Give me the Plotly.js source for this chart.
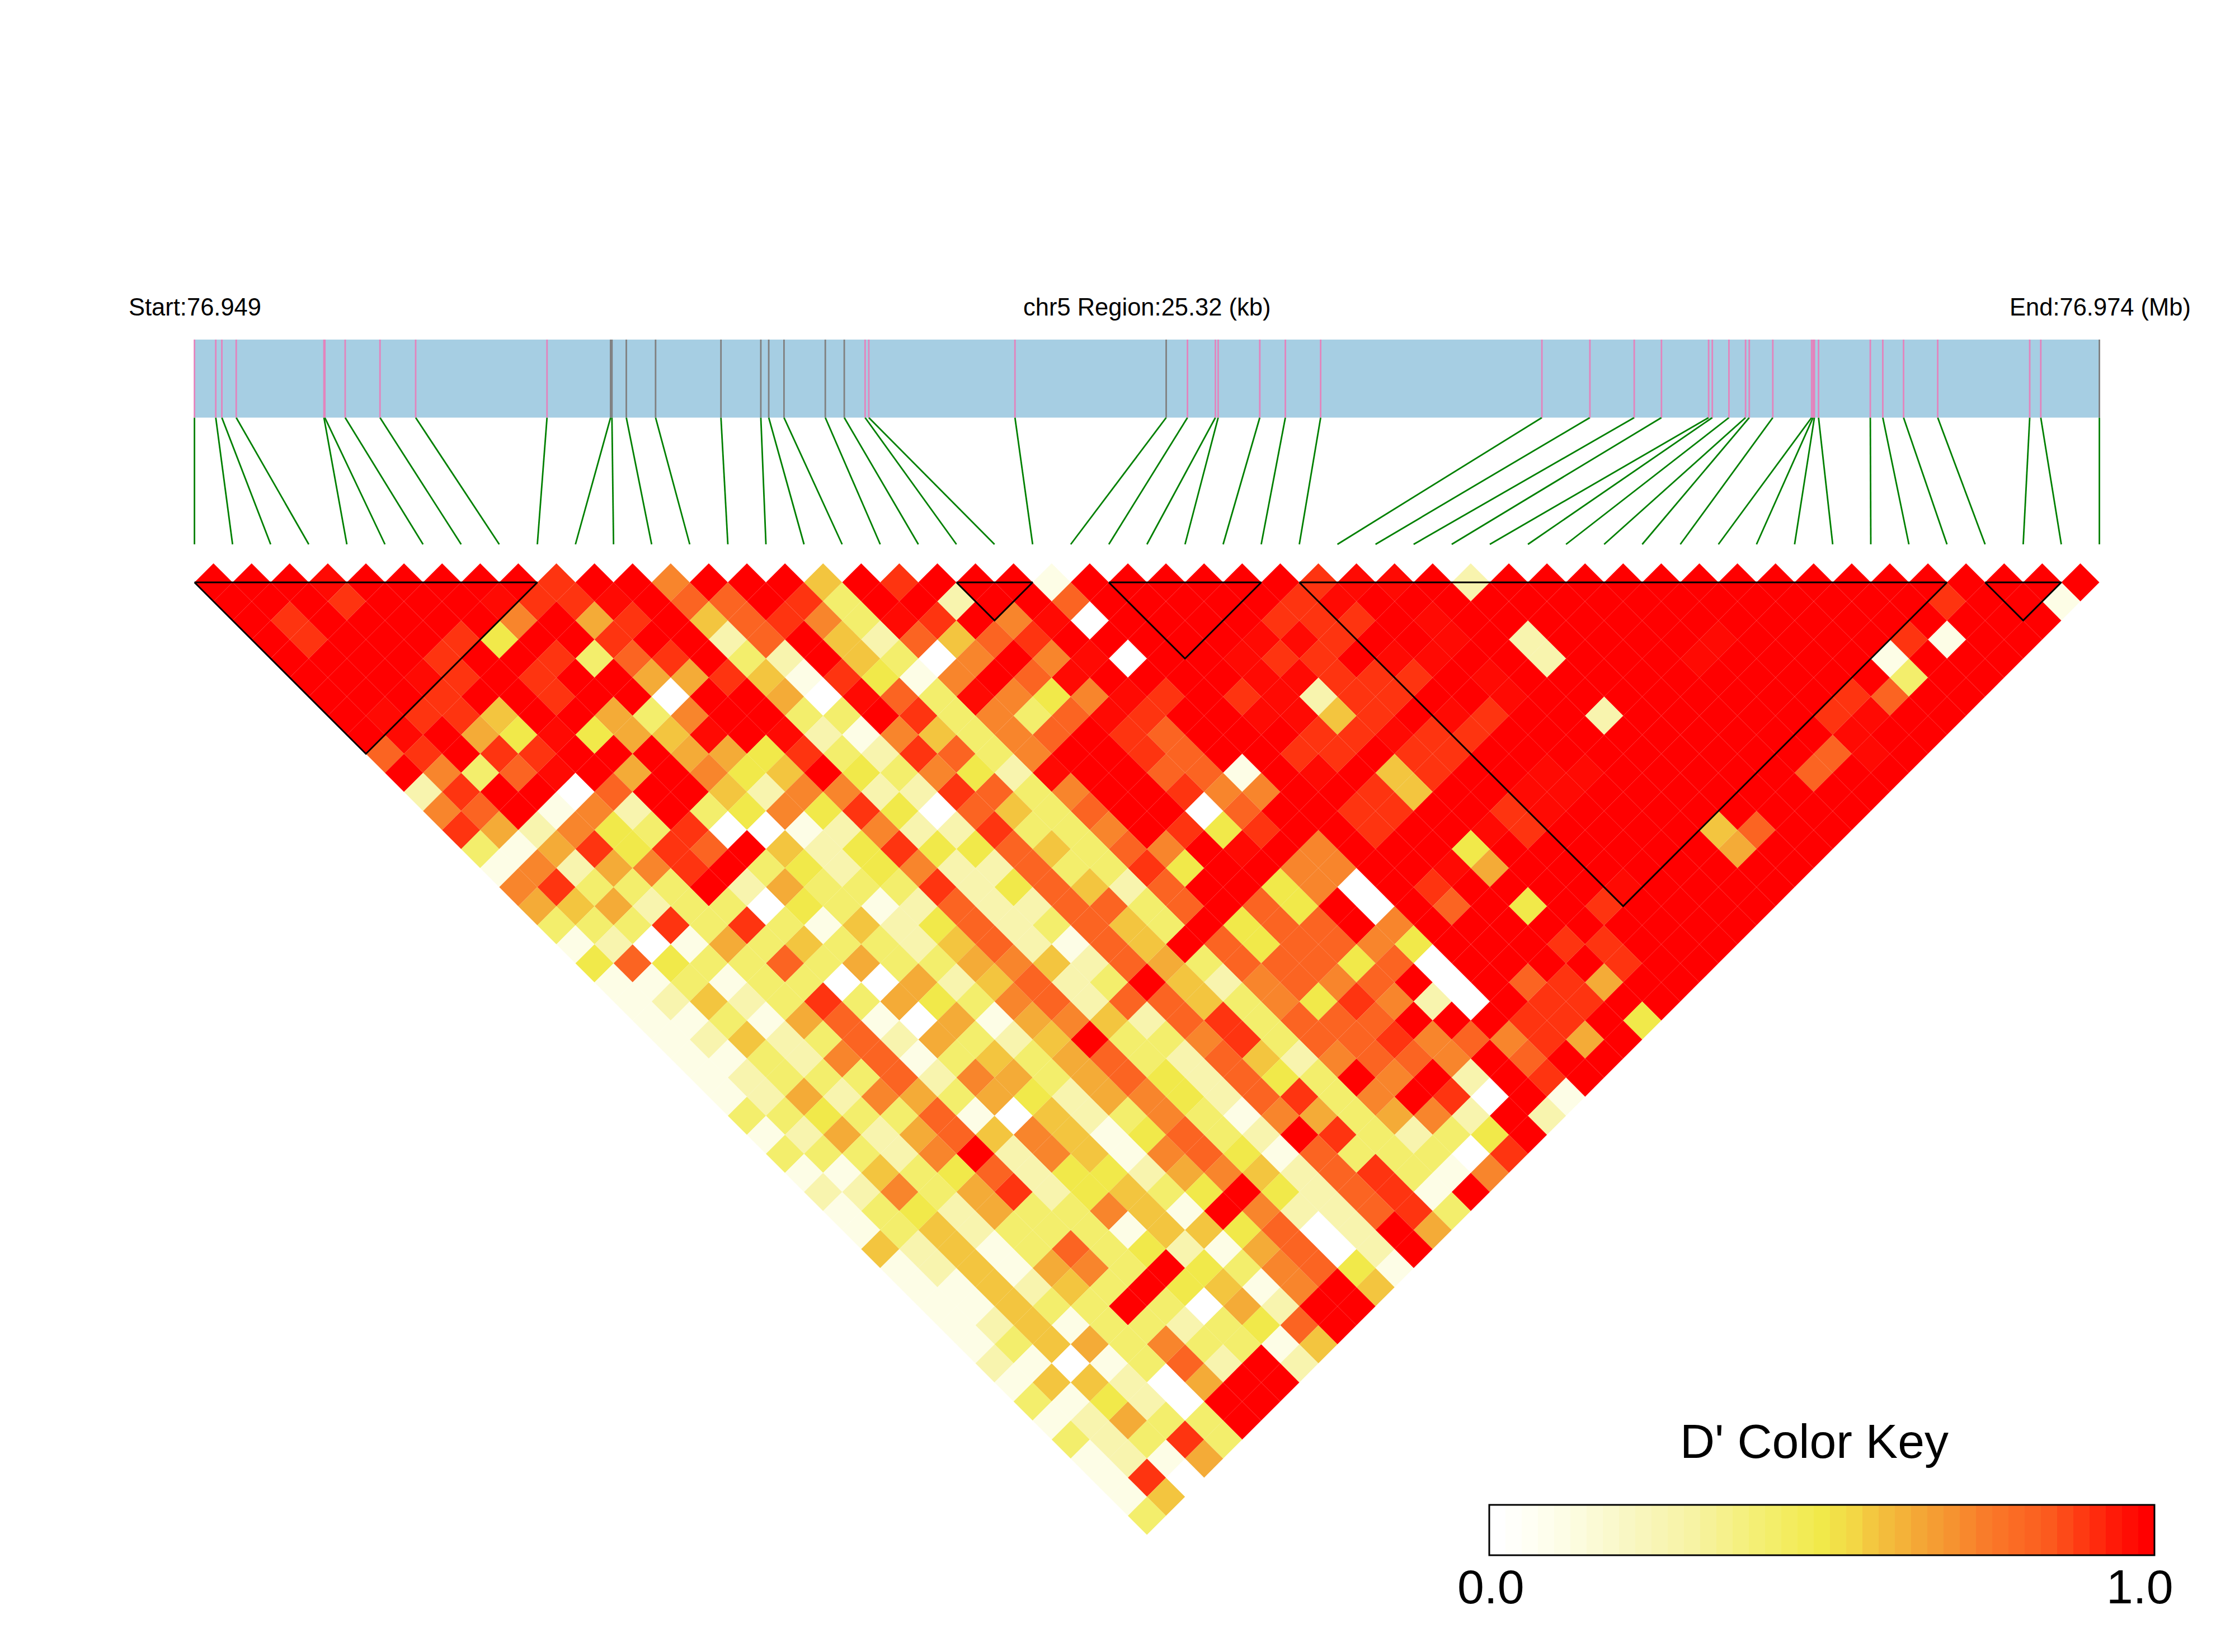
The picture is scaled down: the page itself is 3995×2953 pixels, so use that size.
<!DOCTYPE html>
<html>
<head>
<meta charset="utf-8">
<script src="https://cdn.plot.ly/plotly-3.0.1.min.js"></script>
<style>html,body{margin:0;padding:0;background:#fff}</style>
</head>
<body>
<div id="chart" style="width:3995px;height:2953px"></div>
<script>
// SNP positions along the 25.32 kb region (kb from start)
const regionKb = 25.32;
const snpKb = [0,0.283,0.364,0.555,1.721,1.733,2.003,2.466,2.940,4.686,
  5.531,5.549,5.740,6.129,6.998,7.528,7.633,7.836,8.385,8.637,
  8.914,8.963,10.906,12.916,13.199,13.570,13.607,14.160,14.500,14.969,
  17.910,18.548,19.137,19.499,20.126,20.175,20.396,20.617,20.666,20.979,
  21.495,21.514,21.532,21.587,22.275,22.441,22.717,23.171,24.394,24.541,25.32];
// p = pink tick, g = grey tick
const snpClass = "pppppppppp gggggggggg pppgpppppp pppppppppp pppppppppp g".replace(/ /g,"");

// D' classes per diamond, one string per distance between SNPs (1 .. 50)
const ldRows = [
"aaaxaaaaa9 aa7aaa5a9a aa1aaaaaa9 xxa2aaaaaa aaaaaaaaaa",
"aaa9aaax99 xa88a93aa2 aa8aaaaa9x aaaaaaaaaa aaaaa9aa1",
"a9aaaaa7a6 9a58973x9a 7x0aaaa999 axaaaaaaaa aaaaaaaa",
"a9aaa94aa9 aa28a52858 9aaaaaxx9a axa2aaaaxa aaa91aa",
"aaaa9aa938 9a32a5307a 7x0aax99ax xaa2aaaxaa aa1aaa",
"aaax9a9aa6 69519417a8 xaaaaxx999 axaaaaaaaa aa3aa",
"aaa9aa9aa0 aa60x83x74 7x9a9x299a axaaaaaaaa 98aa",
"ax995aa637 aa33a93738 x9aaxx59ax 9aa2aaaaa9 xaa",
"axa64x465x ax2175378a 98aaa99x99 aaaaaaaaax aa",
"89a99aaa66 49329837aa 98aa99a99a aaaaaaaa8x a",
"a738xa6a74 5a43742xaa 881axa59aa xxaaaaa8aa",
"29aa08aa52 77229837aa 977aa95aax xaaaaaaaa",
"78a172a347 49408538aa 08aa99aa9x aaaaaaaa",
"9627439001 27229337a9 49aa9aax9a aaa58aa",
"3169498a52 494485387a xa7aaa4aaa aaa6aa",
"172679a342 472283394a a77aax6aaa aaaaa",
"79333a2633 39248528aa 470a9aaaax aaaa",
"6562330431 28228838a8 4a0a8a4a9a aaa",
"3339393152 4823853a48 8a7aaaaaaa aa",
"1201635332 582185a848 874aaa99aa a",
"4843383633 6752863888 480aaaa9aa",
"1131330062 5823a52787 8a0a896aa",
"1252393643 7828853749 720a99aa",
"1131681061 6752893888 aaa99a4",
"1252382632 5a33793889 78796a",
"1132781353 6832852788 7a8aa",
"1233382763 6842843a7a 2a9a",
"1262763642 67428937a9 0a1",
"3343381052 3731763672 a2",
"1262685751 4832a93234 a",
"33327a2751 7841833309",
"1153482442 675289317",
"2273692453 4a42891a",
"1342633751 a722893",
"1352333155 4802a6",
"5251383421 6802a",
"1251673a43 7841",
"115253a451 7a5",
"11533a3062 aa",
"1251332348 a",
"1356373315",
"2101382a2",
"155206aa",
"31420aa",
"12633a",
"32393",
"1216",
"190",
"15",
"3"
];
const classValue = {"0":0,"1":0.1,"2":0.27,"3":0.42,"4":0.5,"5":0.58,"6":0.64,"7":0.73,"8":0.82,"9":0.91,"x":0.98,"a":1};

// Haplotype blocks: first and last SNP index
const blockStart = [0,20,24,29,47];
const blockEnd   = [9,22,28,46,49];

const startLabel = "Start:76.949";
const regionLabel = "chr5 Region:25.32 (kb)";
const endLabel = "End:76.974 (Mb)";
const keyTitle = "D' Color Key";
const keyLabels = ["0.0","1.0"];
const keySteps = 41;

const colorscale = [
 [0,"#ffffff"],[0.05,"#fffff4"],[0.1,"#fdfde6"],[0.2,"#f9f7c4"],[0.3,"#f7f3a4"],[0.4,"#f4ef74"],
 [0.5,"#f1e94a"],[0.55,"#f3d745"],[0.58,"#f3c53f"],[0.65,"#f4a736"],[0.7,"#f69330"],[0.75,"#f97c2a"],
 [0.85,"#fc5a1e"],[0.9,"#fe3a12"],[0.95,"#ff1a08"],[1,"#ff0000"]];

// ---- page geometry (pixels) ----
const W=3995,H=2953, X0=347.6, STEP=68.1, Y0=1007;
const px2x = p => (p-X0)/STEP;
const py2y = p => (p-Y0)/STEP;
const kb2x = kb => kb/regionKb*(snpKb.length-1);
const yBarTop=py2y(607), yBarBottom=py2y(746.5), yFanBottom=py2y(973);

// diamonds
const cx=[],cy=[],cv=[];
ldRows.forEach((row,r)=>{
  const d=r+1;
  row.replace(/ /g,"").split("").forEach((c,i)=>{
    cx.push(i+d/2); cy.push(d/2); cv.push(classValue[c]);
  });
});

const traces=[];
traces.push({type:"scatter",mode:"markers",x:cx,y:cy,hoverinfo:"skip",showlegend:false,
  marker:{symbol:"diamond",size:STEP/1.3,color:cv,colorscale:colorscale,cmin:0,cmax:1,showscale:false,line:{width:0}}});

// green connectors
const gx=[],gy=[];
snpKb.forEach((kb,k)=>{gx.push(kb2x(kb),k,null);gy.push(yBarBottom,yFanBottom,null);});
traces.push({type:"scatter",mode:"lines",x:gx,y:gy,hoverinfo:"skip",showlegend:false,line:{color:"#008000",width:2.8}});

// ticks inside the gene bar
["p","g"].forEach(k=>{
  const tx=[],ty=[];
  snpKb.forEach((kb,i)=>{ if(snpClass[i]===k){tx.push(kb2x(kb),kb2x(kb),null);ty.push(yBarTop,yBarBottom,null);} });
  traces.push({type:"scatter",mode:"lines",x:tx,y:ty,hoverinfo:"skip",showlegend:false,
    line:{color:k==="p"?"#e384bd":"#808080",width:2.8}});
});

// LD blocks
const bx=[],by=[];
blockStart.forEach((a,i)=>{const b=blockEnd[i];
  bx.push(a,b,(a+b)/2,a,null); by.push(0.5,0.5,0.5+(b-a)/2,0.5,null);});
traces.push({type:"scatter",mode:"lines",x:bx,y:by,hoverinfo:"skip",showlegend:false,line:{color:"#000000",width:3}});

// colour key
const keyZ=[[]],keyX=[];
for(let k=0;k<keySteps;k++){keyZ[0].push(k/(keySteps-1));keyX.push(k);}
traces.push({type:"heatmap",xaxis:"x2",yaxis:"y2",z:keyZ,x:keyX,y:[0],colorscale:colorscale,zmin:0,zmax:1,showscale:false,hoverinfo:"skip",xgap:0,ygap:0});

const font=s=>({family:"Liberation Sans, Arial, sans-serif",size:s,color:"#000"});
const ann=(text,px,py,size,xanchor)=>({text:text,xref:"paper",yref:"paper",x:px/W,y:1-py/H,xanchor:xanchor||"center",yanchor:"middle",showarrow:false,font:font(size)});

const layout={
  width:W,height:H,margin:{l:0,r:0,t:0,b:0,pad:0},paper_bgcolor:"#fff",plot_bgcolor:"rgba(0,0,0,0)",showlegend:false,
  xaxis:{domain:[0,1],range:[px2x(0),px2x(W)],visible:false,fixedrange:true},
  yaxis:{domain:[0,1],range:[py2y(H),py2y(0)],visible:false,fixedrange:true},
  xaxis2:{domain:[2662/W,3851/W],range:[-0.5,keySteps-0.5],anchor:"y2",visible:false,fixedrange:true},
  yaxis2:{domain:[1-2780/H,1-2690/H],range:[-0.5,0.5],anchor:"x2",visible:false,fixedrange:true},
  shapes:[
    {type:"rect",layer:"below",xref:"x",yref:"y",x0:0,x1:snpKb.length-1,y0:yBarTop,y1:yBarBottom,fillcolor:"#a6cee3",line:{width:0}},
    {type:"rect",layer:"above",xref:"paper",yref:"paper",x0:2662/W,x1:3851/W,y0:1-2780/H,y1:1-2690/H,fillcolor:"rgba(0,0,0,0)",line:{color:"#000",width:3}}
  ],
  annotations:[
    ann(startLabel,228,549,43.5,"left"),
    ann(regionLabel,2050,549,43.5),
    ann(endLabel,3754,549,43.5),
    ann(keyTitle,3243,2576,86),
    ann(keyLabels[0],2665,2836,86),
    ann(keyLabels[1],3825,2836,86)
  ]
};
Plotly.newPlot("chart",traces,layout,{staticPlot:true,displayModeBar:false});
</script>
</body>
</html>
